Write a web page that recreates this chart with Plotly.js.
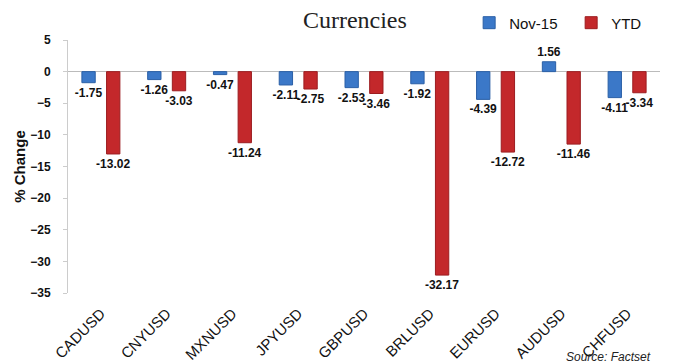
<!DOCTYPE html>
<html><head><meta charset="utf-8">
<script src="https://cdn.plot.ly/plotly-3.0.1.min.js"></script>
<style>body{margin:0;background:#fff}#c{width:676px;height:364px}</style>
</head><body><div id="c"></div>
<script>
const categories = ["CADUSD","CNYUSD","MXNUSD","JPYUSD","GBPUSD","BRLUSD","EURUSD","AUDUSD","CHFUSD"];
const nov15 = [-1.75,-1.26,-0.47,-2.11,-2.53,-1.92,-4.39,1.56,-4.11];
const ytd = [-13.02,-3.03,-11.24,-2.75,-3.46,-32.17,-12.72,-11.46,-3.34];
const yTicks = [5,0,-5,-10,-15,-20,-25,-30,-35];

const lblFont = {family:"Liberation Sans, Arial", size:12, color:"#111", weight:"bold"};
const traces = [
 {type:"bar", name:"Nov-15", x:categories, y:nov15, marker:{color:"#3b78c8", line:{color:"#2a5fa6", width:1}},
  text:nov15.map(v=>v.toFixed(2)), textposition:"outside", constraintext:"none", textfont:lblFont, cliponaxis:false},
 {type:"bar", name:"YTD", x:categories, y:ytd, marker:{color:"#c3282b", line:{color:"#9c1d20", width:1}},
  text:ytd.map(v=>v.toFixed(2)), textposition:"outside", constraintext:"none", textfont:lblFont, cliponaxis:false}
];
const layout = {
 width:676, height:364,
 margin:{l:68, r:16, t:40, b:71},
 paper_bgcolor:"#fff", plot_bgcolor:"#fff",
 barmode:"group", bargap:0.25, bargroupgap:0.46,
 title:{text:"Currencies", x:0.525, xanchor:"center", yref:"container", y:0.945, yanchor:"middle",
   font:{family:"Liberation Serif, Times New Roman, serif", size:24, color:"#222"}},
 showlegend:true,
 legend:{orientation:"h", xref:"container", yref:"container", x:0.694, y:0.937, xanchor:"left", yanchor:"middle",
   font:{family:"Liberation Sans, Arial", size:15, color:"#111"}, entrywidth:57, entrywidthmode:"pixels", traceorder:"normal"},
 xaxis:{showgrid:false, zeroline:false, showline:false, tickangle:-45, ticklabelstandoff:8,
   tickfont:{family:"Liberation Sans, Arial", size:15, color:"#111"}, ticks:"", automargin:false},
 yaxis:{range:[-35,5], tickvals:yTicks, showgrid:false, zeroline:true, zerolinecolor:"#bbb", zerolinewidth:1,
   showline:true, linecolor:"#ccc", ticks:"outside", ticklen:4, tickcolor:"#ccc", ticklabelstandoff:10,
   tickfont:{family:"Liberation Sans, Arial", size:12, color:"#111", weight:"bold"},
   title:{text:"% Change", standoff:0, font:{family:"Liberation Sans, Arial", size:15, color:"#111", weight:"bold"}},
   automargin:false},
 annotations:[{text:"<i>Source: Factset</i>", xref:"paper", yref:"paper", x:0.988, y:-0.252, xanchor:"right", yanchor:"middle",
   showarrow:false, font:{family:"Liberation Sans, Arial", size:12, color:"#222"}}]
};
Plotly.newPlot("c", traces, layout, {displayModeBar:false, staticPlot:true});
</script></body></html>
